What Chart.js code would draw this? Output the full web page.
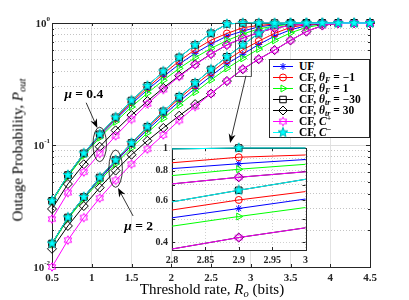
<!DOCTYPE html>
<html>
<head>
<meta charset="utf-8">
<title>Outage probability vs threshold rate</title>
<script src="https://cdn.jsdelivr.net/npm/chart.js@4.4.1/dist/chart.umd.min.js"></script>
<style>
  html, body { margin: 0; padding: 0; background: #fff; }
  #wrap { position: relative; width: 409px; height: 300px; overflow: hidden;
          font-family: "Liberation Serif", "DejaVu Serif", serif; color: #000; }
  canvas { position: absolute; }
  .txt { position: absolute; white-space: nowrap; line-height: 1; }
  .sb { font-size: 70%; position: relative; top: 0.3em; }
  .sp { font-size: 70%; position: relative; top: -0.5em; }
  #xtitle { font-size: 15px; transform: translate(-50%, -50%); }
  #ytitle { font-size: 15px; transform: translate(-50%, -50%) rotate(-90deg); }
  .note { font-size: 13.5px; font-weight: bold; transform: translate(-50%, -50%); }
  #legend { position: absolute; left: 269px; top: 59px; width: 101px; height: 79px; box-sizing: border-box;
            border: 1px solid #262626; background: #fff; padding-top: 1px; font-weight: bold; font-size: 11.5px; }
  .row { position: relative; height: 11px; }
  .row > canvas { left: 1px; top: -1px; }
  .row > span { position: absolute; left: 29px; top: 0; line-height: 11px; white-space: nowrap; }
</style>
</head>
<body>
<div id="wrap">
  <canvas id="main" width="409" height="300"></canvas>
  <canvas id="inset" width="172" height="132" style="left:140px;top:138px"></canvas>
  <div id="legend"></div>
  <div class="txt" id="xtitle" style="left:212px;top:289px">Threshold rate, <i>R<span class="sb">o</span></i> (bits)</div>
  <div class="txt" id="ytitle" style="left:18px;top:150px">Outage Probability, <i>P<span class="sb">out</span></i></div>
  <div class="txt note" id="noteA"><i>μ</i> = 0.4</div>
  <div class="txt note" id="noteB"><i>μ</i> = 2</div>
</div>
<script>
// threshold rate R_o (bits)
const rate = [0.5, 0.7, 0.9, 1.1, 1.3, 1.5, 1.7, 1.9, 2.1, 2.3, 2.5, 2.7, 2.9, 3.1, 3.3, 3.5, 3.7, 3.9, 4.1, 4.3, 4.5];

// mu = 0.4
const ufMu04       = [0.0347, 0.056, 0.0836, 0.1186, 0.1614, 0.2163, 0.2831, 0.3631, 0.4592, 0.5649, 0.673, 0.78, 0.858, 0.931, 0.965, 0.985, 0.995, 0.999, 1, 1, 1];
const cfFnegMu04   = [0.0349, 0.0565, 0.0847, 0.1208, 0.1652, 0.2239, 0.2951, 0.3819, 0.4875, 0.6053, 0.7244, 0.8204, 0.914, 0.955, 0.98, 0.993, 0.998, 1, 1, 1, 1];
const cfFposMu04   = [0.0343, 0.0552, 0.0817, 0.1148, 0.1549, 0.2051, 0.266, 0.3388, 0.4246, 0.52, 0.6194, 0.718, 0.813, 0.895, 0.945, 0.975, 0.99, 0.997, 1, 1, 1];
const cfTrNegMu04  = [0.0349, 0.0568, 0.0855, 0.1225, 0.1687, 0.2317, 0.3055, 0.4009, 0.5224, 0.6607, 0.8241, 0.9817, 1, 1, 1, 1, 1, 1, 1, 1, 1];
const cfTrPosMu04  = [0.0299, 0.0479, 0.0695, 0.0968, 0.1318, 0.1758, 0.2291, 0.2938, 0.3698, 0.4592, 0.5572, 0.6607, 0.7516, 0.8375, 0.9078, 0.955, 0.9817, 0.9954, 1, 1, 1];
const cfCplusMu04  = [0.0247, 0.0407, 0.06, 0.0851, 0.1189, 0.1622, 0.2173, 0.2844, 0.3639, 0.455, 0.5559, 0.6607, 0.7516, 0.8375, 0.9078, 0.955, 0.9817, 0.9954, 1, 1, 1];
const cfCminusMu04 = [0.0349, 0.0568, 0.0855, 0.1225, 0.1687, 0.2317, 0.3055, 0.4009, 0.5224, 0.6607, 0.8241, 0.9817, 1, 1, 1, 1, 1, 1, 1, 1, 1];

// mu = 2
const ufMu2       = [0.0155, 0.0252, 0.0369, 0.0527, 0.0728, 0.0993, 0.133, 0.175, 0.2275, 0.2904, 0.3681, 0.4624, 0.5546, 0.6668, 0.78, 0.88, 0.95, 0.985, 0.997, 1, 1];
const cfFnegMu2   = [0.0156, 0.0254, 0.0373, 0.0537, 0.0745, 0.1023, 0.138, 0.1832, 0.2399, 0.309, 0.3936, 0.4955, 0.6026, 0.7096, 0.823, 0.92, 0.97, 0.99, 0.998, 1, 1];
const cfFposMu2   = [0.0153, 0.0248, 0.0361, 0.051, 0.07, 0.0946, 0.1259, 0.1648, 0.2128, 0.271, 0.3412, 0.4246, 0.5129, 0.611, 0.72, 0.83, 0.92, 0.97, 0.99, 0.998, 1];
const cfTrNegMu2  = [0.0156, 0.0255, 0.0375, 0.0542, 0.0753, 0.104, 0.1413, 0.1888, 0.2489, 0.3228, 0.4159, 0.5284, 0.6622, 0.8204, 0.966, 1, 1, 1, 1, 1, 1];
const cfTrPosMu2  = [0.0141, 0.0217, 0.0316, 0.0447, 0.0617, 0.0832, 0.1084, 0.138, 0.1738, 0.2163, 0.2642, 0.3342, 0.4178, 0.505, 0.6, 0.72, 0.85, 0.955, 0.995, 1, 1];
const cfCplusMu2  = [0.01, 0.0166, 0.0254, 0.0367, 0.0513, 0.0697, 0.0925, 0.1208, 0.1592, 0.2065, 0.2642, 0.3342, 0.4178, 0.505, 0.6, 0.72, 0.85, 0.955, 0.995, 1, 1];
const cfCminusMu2 = [0.0156, 0.0255, 0.0375, 0.0542, 0.0753, 0.104, 0.1413, 0.1888, 0.2489, 0.3228, 0.4159, 0.5284, 0.6622, 0.8204, 0.966, 1, 1, 1, 1, 1, 1];

const legendLabels = [
  'UF',
  'CF, <i>θ<span class="sb">F</span></i> = −1',
  'CF, <i>θ<span class="sb">F</span></i> = 1',
  'CF, <i>θ<span class="sb">tr</span></i> = −30',
  'CF, <i>θ<span class="sb">tr</span></i> = 30',
  'CF, <i>C</i><span class="sp">+</span>',
  'CF, <i>C</i><span class="sp">−</span>'
];

const xTicks = [0.5, 1, 1.5, 2, 2.5, 3, 3.5, 4, 4.5];
const yDecades = [0.01, 0.1, 1];
const yExpLabels = ['-2', '-1', '0'];
const insetXTicks = [2.8, 2.85, 2.9, 2.95, 3];
const insetXLabels = ['2.8', '2.85', '2.9', '2.95', '3'];
const insetYTicks = [0.4, 0.5, 0.6, 0.7, 0.8, 0.9, 1];
const insetYLabels = ['0.4', '', '0.6', '', '0.8', '', '1'];

// annotation positions, in data units
const ellipseMarks = [
  { x: 1.1, dx: 0.085, yLo: 0.073, yHi: 0.14 },
  { x: 1.3, dx: 0.085, yLo: 0.045, yHi: 0.091 }
];
const arrowMarks = [
  { from: [0.93, 0.222], to: [1.07, 0.138] },
  { from: [1.52, 0.0262], to: [1.33, 0.0444] },
  { from: [2.94, 0.37], to: [2.74, 0.104] }
];
const zoomBox = { x0: 2.8, x1: 3.0, y0: 0.37, y1: 1 };
const noteMarks = [{ id: 'noteA', x: 0.9, y: 0.262 }, { id: 'noteB', x: 1.59, y: 0.0217 }];

const yGrid = [];
yDecades.slice(0, -1).forEach(d => { for (let k = 1; k < 10; k++) yGrid.push(+(d * k).toPrecision(3)); });
yGrid.push(1);
const isDecade = v => yDecades.includes(v);

function starMarker(n, rOut, rIn, stroke, fill) {
  const s = Math.ceil(rOut * 2 + 3);
  const cv = document.createElement('canvas');
  cv.width = s; cv.height = s;
  const c = cv.getContext('2d');
  c.beginPath();
  for (let i = 0; i < 2 * n; i++) {
    const r = i % 2 ? rIn : rOut;
    const a = -Math.PI / 2 + i * Math.PI / n;
    const px = s / 2 + r * Math.cos(a), py = s / 2 + r * Math.sin(a);
    if (i) c.lineTo(px, py); else c.moveTo(px, py);
  }
  c.closePath();
  if (fill) { c.fillStyle = fill; c.fill(); }
  c.strokeStyle = stroke; c.lineWidth = 1; c.stroke();
  return cv;
}
const hexMark = starMarker(6, 4.3, 2.5, '#ff00ff', null);
const pentMark = starMarker(5, 5.2, 2.1, '#00b4b4', '#00ffff');

const styles = [
  { color: '#0000ff', shape: 'star', r: 3.5 },
  { color: '#ff0000', shape: 'circle', r: 3.5 },
  { color: '#00ff00', shape: 'triangle', r: 4, rot: 90 },
  { color: '#000000', shape: 'rect', r: 4.6 },
  { color: '#000000', shape: 'rectRot', r: 4.5 },
  { color: '#ff00ff', shape: hexMark, r: 4.3 },
  { color: '#00ffff', shape: pentMark, r: 5 }
];
const mu04 = [ufMu04, cfFnegMu04, cfFposMu04, cfTrNegMu04, cfTrPosMu04, cfCplusMu04, cfCminusMu04];
const mu2 = [ufMu2, cfFnegMu2, cfFposMu2, cfTrNegMu2, cfTrPosMu2, cfCplusMu2, cfCminusMu2];

function makeDatasets(clip) {
  const sets = [];
  [mu04, mu2].forEach(group => group.forEach((vals, i) => {
    const st = styles[i];
    sets.push({
      data: rate.map((r, k) => ({ x: r, y: vals[k] })),
      borderColor: st.color, borderWidth: 1,
      pointStyle: st.shape, pointRadius: st.r, pointHoverRadius: st.r,
      pointRotation: st.rot || 0,
      pointBorderColor: st.color, pointBackgroundColor: 'rgba(0,0,0,0)',
      pointBorderWidth: 1, order: 7 - i, tension: 0, fill: false, clip: clip
    });
  }));
  return sets;
}

function hline(ctx, x0, x1, y) { ctx.beginPath(); ctx.moveTo(x0, y); ctx.lineTo(x1, y); ctx.stroke(); }
function vline(ctx, x, y0, y1) { ctx.beginPath(); ctx.moveTo(x, y0); ctx.lineTo(x, y1); ctx.stroke(); }

function arrow(ctx, x0, y0, x1, y1) {
  const ang = Math.atan2(y1 - y0, x1 - x0);
  const L = 9, W = 3.5;
  ctx.beginPath();
  ctx.moveTo(x0, y0);
  ctx.lineTo(x1 - L * 0.7 * Math.cos(ang), y1 - L * 0.7 * Math.sin(ang));
  ctx.stroke();
  ctx.save();
  ctx.translate(x1, y1); ctx.rotate(ang);
  ctx.beginPath();
  ctx.moveTo(0, 0); ctx.lineTo(-L, -W); ctx.lineTo(-L * 0.7, 0); ctx.lineTo(-L, W);
  ctx.closePath(); ctx.fill();
  ctx.restore();
}

const mainDecor = {
  id: 'mainDecor',
  beforeDatasetsDraw(chart) {
    const { ctx, chartArea: a, scales: { x, y } } = chart;
    ctx.save();
    ctx.lineWidth = 1;
    ctx.strokeStyle = '#dedede';
    yDecades.forEach(v => hline(ctx, a.left, a.right, Math.round(y.getPixelForValue(v)) + 0.5));
    ctx.strokeStyle = '#262626';
    xTicks.forEach(v => {
      const px = Math.round(x.getPixelForValue(v)) + 0.5;
      vline(ctx, px, a.bottom, a.bottom - 3);
      vline(ctx, px, a.top, a.top + 3);
    });
    yGrid.forEach(v => {
      const py = Math.round(y.getPixelForValue(v)) + 0.5;
      const len = isDecade(v) ? 4 : 2;
      hline(ctx, a.left, a.left + len, py);
      hline(ctx, a.right - len, a.right, py);
    });
    ctx.strokeRect(Math.round(a.left) + 0.5, Math.round(a.top) + 0.5, Math.round(a.right - a.left), Math.round(a.bottom - a.top));
    // y tick labels 10^k
    ctx.fillStyle = '#262626';
    ctx.textBaseline = 'middle';
    ctx.textAlign = 'right';
    yDecades.forEach((v, i) => {
      const py = y.getPixelForValue(v);
      ctx.font = 'bold 7px "Liberation Serif"';
      const ew = ctx.measureText(yExpLabels[i]).width;
      ctx.fillText(yExpLabels[i], a.left - 2, py - 4);
      ctx.font = 'bold 11px "Liberation Serif"';
      ctx.fillText('10', a.left - 2 - ew, py + 1);
    });
    ctx.restore();
  },
  afterDatasetsDraw(chart) {
    const { ctx, scales: { x, y } } = chart;
    const P = (xv, yv) => [x.getPixelForValue(xv), y.getPixelForValue(yv)];
    ctx.save();
    ctx.strokeStyle = '#000';
    ctx.fillStyle = '#000';
    ctx.lineWidth = 0.8;
    ellipseMarks.forEach(e => {
      const [cx, top] = P(e.x, e.yHi);
      const bot = y.getPixelForValue(e.yLo);
      const rx = x.getPixelForValue(e.x + e.dx) - cx;
      ctx.beginPath();
      ctx.ellipse(cx, (top + bot) / 2, rx, (bot - top) / 2, 0, 0, Math.PI * 2);
      ctx.stroke();
    });
    arrowMarks.forEach(m => {
      const [x0, y0] = P(m.from[0], m.from[1]);
      const [x1, y1] = P(m.to[0], m.to[1]);
      arrow(ctx, x0, y0, x1, y1);
    });
    const [bx0, by1] = P(zoomBox.x0, zoomBox.y1);
    const [bx1, by0] = P(zoomBox.x1, zoomBox.y0);
    ctx.strokeStyle = '#333';
    ctx.strokeRect(Math.round(bx0) + 0.5, Math.round(by1) + 0.5, Math.round(bx1 - bx0), Math.round(by0 - by1));
    ctx.restore();
  }
};

const insetDecor = {
  id: 'insetDecor',
  beforeDraw(chart) {
    const { ctx, chartArea: a } = chart;
    ctx.save();
    ctx.fillStyle = '#fff';
    ctx.fillRect(a.left, a.top, a.right - a.left, a.bottom - a.top);
    ctx.restore();
  },
  beforeDatasetsDraw(chart) {
    const { ctx, chartArea: a, scales: { x, y } } = chart;
    ctx.save();
    ctx.lineWidth = 1;
    ctx.strokeStyle = '#262626';
    insetXTicks.forEach(v => {
      const px = Math.round(x.getPixelForValue(v)) + 0.5;
      vline(ctx, px, a.bottom, a.bottom - 3);
      vline(ctx, px, a.top, a.top + 3);
    });
    insetYTicks.forEach(v => {
      const py = Math.round(y.getPixelForValue(v)) + 0.5;
      hline(ctx, a.left, a.left + 3, py);
      hline(ctx, a.right - 3, a.right, py);
    });
    ctx.strokeRect(Math.round(a.left) + 0.5, Math.round(a.top) + 0.5, Math.round(a.right - a.left), Math.round(a.bottom - a.top));
    ctx.restore();
  }
};

Chart.defaults.font.family = '"Liberation Serif", serif';
const tickFont = { family: '"Liberation Serif", serif', weight: 'bold', size: 11 };

const mainChart = new Chart(document.getElementById('main'), {
  type: 'line',
  data: { datasets: makeDatasets(false) },
  options: {
    responsive: false, animation: false, events: [],
    layout: { padding: { left: 0, right: 39, top: 23, bottom: 0 } },
    plugins: { legend: { display: false }, tooltip: { enabled: false } },
    scales: {
      x: {
        type: 'linear', min: 0.5, max: 4.5,
        afterBuildTicks: s => { s.ticks = xTicks.map(v => ({ value: v })); },
        afterFit: s => { s.height = 33; },
        grid: { color: '#e2e2e2', drawTicks: false },
        border: { display: false },
        ticks: { padding: 5, color: '#262626', font: tickFont, autoSkip: false, maxRotation: 0, callback: v => String(v) }
      },
      y: {
        type: 'logarithmic', min: 0.01, max: 1,
        afterBuildTicks: s => { s.ticks = yGrid.map(v => ({ value: v })); },
        afterFit: s => { s.width = 52; },
        grid: { drawTicks: false, color: c => (c.tick && isDecade(c.tick.value)) ? 'rgba(0,0,0,0)' : '#c4c4c4' },
        border: { display: false, dash: [1, 2] },
        ticks: { display: false, autoSkip: false }
      }
    }
  },
  plugins: [mainDecor]
});

const insetChart = new Chart(document.getElementById('inset'), {
  type: 'line',
  data: { datasets: makeDatasets({ left: 0, top: 6, right: 0, bottom: 0 }) },
  options: {
    responsive: false, animation: false, events: [],
    layout: { padding: { left: 0, right: 5, top: 7, bottom: 0 } },
    plugins: { legend: { display: false }, tooltip: { enabled: false } },
    scales: {
      x: {
        type: 'linear', min: 2.8, max: 3,
        afterBuildTicks: s => { s.ticks = insetXTicks.map(v => ({ value: v })); },
        afterFit: s => { s.height = 20; },
        grid: { color: '#d0d0d0', drawTicks: false },
        border: { display: false, dash: [1, 2] },
        ticks: { padding: 4, color: '#262626', font: { ...tickFont, size: 10 }, autoSkip: false, maxRotation: 0, callback: (v, i) => insetXLabels[i] }
      },
      y: {
        type: 'logarithmic', min: 0.37, max: 1,
        afterBuildTicks: s => { s.ticks = insetYTicks.map(v => ({ value: v })); },
        afterFit: s => { s.width = 32; },
        grid: { color: '#d0d0d0', drawTicks: false },
        border: { display: false, dash: [1, 2] },
        ticks: { padding: 4, color: '#262626', font: { ...tickFont, size: 10 }, autoSkip: false, callback: (v, i) => insetYLabels[i] }
      }
    }
  },
  plugins: [insetDecor]
});

// legend
function drawSample(c, st) {
  const cx = 12, cy = 6.5, r = st.r;
  c.strokeStyle = st.color; c.lineWidth = 1;
  c.beginPath(); c.moveTo(2, cy); c.lineTo(22, cy); c.stroke();
  if (typeof st.shape !== 'string') {
    c.drawImage(st.shape, cx - st.shape.width / 2, cy - st.shape.height / 2);
    return;
  }
  c.beginPath();
  if (st.shape === 'circle') c.arc(cx, cy, r, 0, Math.PI * 2);
  else if (st.shape === 'star') {
    for (let k = 0; k < 4; k++) {
      const a = k * Math.PI / 4;
      c.moveTo(cx - r * Math.cos(a), cy - r * Math.sin(a));
      c.lineTo(cx + r * Math.cos(a), cy + r * Math.sin(a));
    }
  } else if (st.shape === 'triangle') {
    c.moveTo(cx + r, cy); c.lineTo(cx - r / 2, cy - r * 0.866); c.lineTo(cx - r / 2, cy + r * 0.866); c.closePath();
  } else if (st.shape === 'rect') {
    const h = r * Math.SQRT1_2; c.rect(cx - h, cy - h, 2 * h, 2 * h);
  } else if (st.shape === 'rectRot') {
    c.moveTo(cx, cy - r); c.lineTo(cx + r, cy); c.lineTo(cx, cy + r); c.lineTo(cx - r, cy); c.closePath();
  }
  c.stroke();
}

const legendBox = document.getElementById('legend');
legendLabels.forEach((lab, i) => {
  const row = document.createElement('div');
  row.className = 'row';
  const cv = document.createElement('canvas');
  cv.width = 26; cv.height = 13;
  drawSample(cv.getContext('2d'), styles[i]);
  const sp = document.createElement('span');
  sp.innerHTML = lab;
  row.append(cv, sp);
  legendBox.append(row);
});

// place the mu notes through the main scales
noteMarks.forEach(n => {
  const el = document.getElementById(n.id);
  el.style.left = mainChart.scales.x.getPixelForValue(n.x) + 'px';
  el.style.top = mainChart.scales.y.getPixelForValue(n.y) + 'px';
});
</script>
</body>
</html>
